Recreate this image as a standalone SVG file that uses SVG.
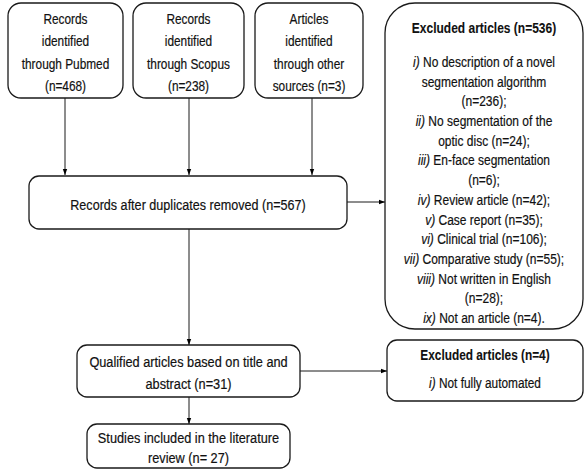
<svg xmlns="http://www.w3.org/2000/svg" width="584" height="470" viewBox="0 0 584 470">
<defs>
<marker id="ah" viewBox="0 0 6 6" refX="6" refY="3" markerWidth="6" markerHeight="6" markerUnits="userSpaceOnUse" orient="auto">
<path d="M0,0.8 L6,3 L0,5.2 Z" fill="#000"/>
</marker>
<style>
.box{fill:#fff;stroke:#1a1a1a;stroke-width:1.3}
.t{font-family:"Liberation Sans",Arial,sans-serif;font-size:15px;fill:#111;stroke:#111;stroke-width:0.2;text-anchor:middle}
.b{font-weight:bold;stroke-width:0.1}
.c{fill:none;stroke:#1a1a1a;stroke-width:1}
</style>
</defs>
<rect width="584" height="470" fill="#fff"/>
<g id="connectors">
<line class="c" x1="65" y1="98" x2="65" y2="175" marker-end="url(#ah)"/>
<line class="c" x1="189" y1="98" x2="189" y2="175" marker-end="url(#ah)"/>
<line class="c" x1="312" y1="98" x2="312" y2="175" marker-end="url(#ah)"/>
<line class="c" x1="347" y1="202" x2="385" y2="202" marker-end="url(#ah)"/>
<line class="c" x1="189" y1="229" x2="189" y2="345" marker-end="url(#ah)"/>
<line class="c" x1="300" y1="371" x2="387" y2="371" marker-end="url(#ah)"/>
<line class="c" x1="189" y1="397" x2="189" y2="424" marker-end="url(#ah)"/>
</g>
<g id="pubmed">
<rect class="box" x="8" y="3" width="115" height="95" rx="13"/>
<g transform="translate(65.5,0) scale(0.79,1)">
<text class="t" x="0" y="24">Records</text>
<text class="t" x="0" y="46.5">identified</text>
<text class="t" x="0" y="69">through Pubmed</text>
<text class="t" x="0" y="91">(n=468)</text>
</g>
</g>
<g id="scopus">
<rect class="box" x="133" y="3" width="111" height="95" rx="13"/>
<g transform="translate(188.5,0) scale(0.79,1)">
<text class="t" x="0" y="24">Records</text>
<text class="t" x="0" y="46.5">identified</text>
<text class="t" x="0" y="69">through Scopus</text>
<text class="t" x="0" y="91">(n=238)</text>
</g>
</g>
<g id="other">
<rect class="box" x="255" y="3" width="108" height="95" rx="13"/>
<g transform="translate(309,0) scale(0.79,1)">
<text class="t" x="0" y="24">Articles</text>
<text class="t" x="0" y="46.5">identified</text>
<text class="t" x="0" y="69">through other</text>
<text class="t" x="0" y="91">sources (n=3)</text>
</g>
</g>
<g id="duplicates">
<rect class="box" x="29" y="176" width="318" height="53" rx="10"/>
<g transform="translate(188,0) scale(0.84,1)">
<text class="t" x="0" y="210">Records after duplicates removed (n=567)</text>
</g>
</g>
<g id="excluded536">
<rect class="box" x="385" y="3" width="198" height="326" rx="30"/>
<g transform="translate(484,0) scale(0.8,1)">
<text class="t b" x="0" y="33">Excluded articles (n=536)</text>
<text class="t" x="0" y="67"><tspan font-style="italic">i)</tspan> No description of a novel</text>
<text class="t" x="0" y="86.7">segmentation algorithm</text>
<text class="t" x="0" y="106.4">(n=236);</text>
<text class="t" x="0" y="126.1"><tspan font-style="italic">ii)</tspan> No segmentation of the</text>
<text class="t" x="0" y="145.8">optic disc (n=24);</text>
<text class="t" x="0" y="165.5"><tspan font-style="italic">iii)</tspan> En-face segmentation</text>
<text class="t" x="0" y="185.2">(n=6);</text>
<text class="t" x="0" y="204.9"><tspan font-style="italic">iv)</tspan> Review article (n=42);</text>
<text class="t" x="0" y="224.6"><tspan font-style="italic">v)</tspan> Case report (n=35);</text>
<text class="t" x="0" y="244.3"><tspan font-style="italic">vi)</tspan> Clinical trial (n=106);</text>
<text class="t" x="0" y="264"><tspan font-style="italic">vii)</tspan> Comparative study (n=55);</text>
<text class="t" x="0" y="283.7"><tspan font-style="italic">viii)</tspan> Not written in English</text>
<text class="t" x="0" y="303.4">(n=28);</text>
<text class="t" x="0" y="323.1"><tspan font-style="italic">ix)</tspan> Not an article (n=4).</text>
</g>
</g>
<g id="qualified">
<rect class="box" x="77" y="345" width="223" height="52" rx="10"/>
<g transform="translate(188.5,0) scale(0.85,1)">
<text class="t" x="0" y="367">Qualified articles based on title and</text>
<text class="t" x="0" y="389">abstract (n=31)</text>
</g>
</g>
<g id="excluded4">
<rect class="box" x="387" y="340" width="196" height="61" rx="10"/>
<g transform="translate(485,0) scale(0.79,1)">
<text class="t b" x="0" y="360">Excluded articles (n=4)</text>
<text class="t" x="0" y="388"><tspan font-style="italic">i)</tspan> Not fully automated</text>
</g>
</g>
<g id="studies">
<rect class="box" x="87" y="424" width="203" height="44" rx="10"/>
<g transform="translate(188.5,0) scale(0.85,1)">
<text class="t" x="0" y="443">Studies included in the literature</text>
<text class="t" x="0" y="463">review (n= 27)</text>
</g>
</g>
</svg>
